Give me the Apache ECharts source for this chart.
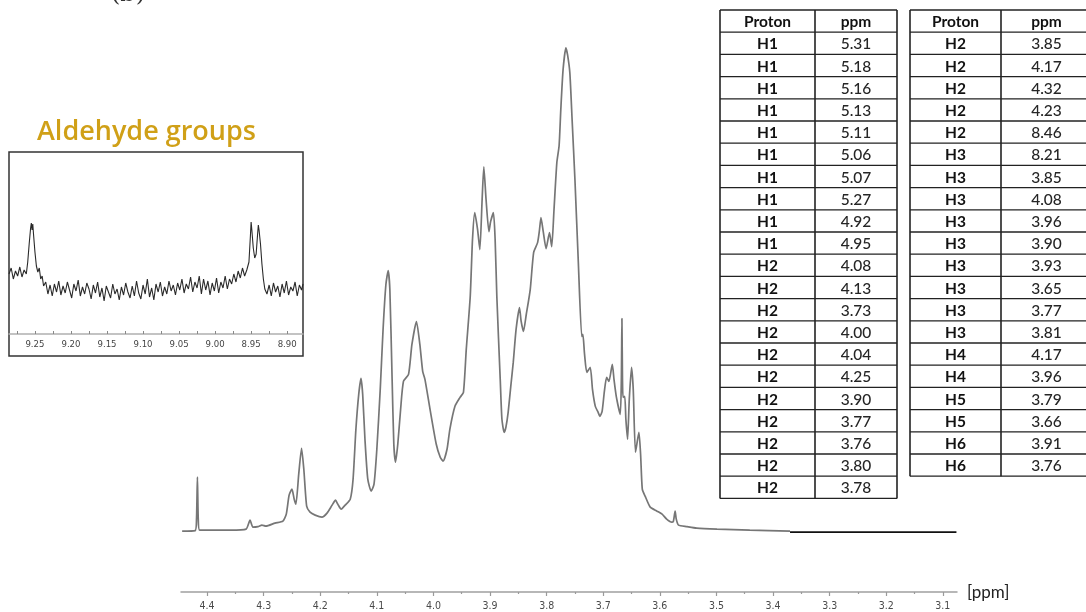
<!DOCTYPE html>
<html><head><meta charset="utf-8">
<script src="https://cdn.jsdelivr.net/npm/echarts@6/dist/echarts.min.js"></script>
<style>html,body{margin:0;padding:0;background:#fff}#c{width:1086px;height:612px}</style>
</head><body><div id="c"></div>
<script>
// 1H NMR spectrum: [chemical shift (ppm), intensity (a.u.)]
const spectrum = [
  [4.444,0],[4.421,0.5],[4.4186,12],[4.417,54],[4.4155,12],[4.413,1],[4.359,1],[4.331,2],
  [4.324,11],[4.319,4],[4.310,4.5],[4.303,6],[4.296,5],[4.280,8],[4.266,10],[4.260,17],
  [4.255,36],[4.250,42],[4.246,32],[4.243,27],[4.238,57],[4.233,83],[4.229,62],[4.224,25],
  [4.218,19],[4.209,16],[4.197,14],[4.188,18],[4.179,26],[4.173,31],[4.169,27],[4.163,22],
  [4.156,26],[4.147,32],[4.142,52],[4.137,102],[4.132,137],[4.128,153],[4.125,137],[4.121,92],
  [4.116,52],[4.110,40],[4.105,47],[4.100,82],[4.094,142],[4.089,202],[4.084,247],[4.080,261],
  [4.077,242],[4.073,152],[4.070,87],[4.067,69],[4.063,87],[4.058,122],[4.053,150],[4.044,157],
  [4.038,187],[4.030,210],[4.024,187],[4.019,160],[4.015,152],[4.006,122],[3.995,87],[3.988,74],
  [3.983,70],[3.976,82],[3.971,102],[3.962,125],[3.953,134],[3.947,139],[3.942,182],[3.935,235],
  [3.931,292],[3.927,319],[3.922,302],[3.918,282],[3.914,332],[3.911,365],[3.907,332],[3.902,300],
  [3.899,310],[3.894,319],[3.891,292],[3.888,235],[3.882,152],[3.879,112],[3.875,99],[3.872,104],
  [3.868,119],[3.863,147],[3.859,169],[3.854,202],[3.848,224],[3.845,210],[3.841,200],[3.836,217],
  [3.829,242],[3.823,279],[3.816,289],[3.813,300],[3.810,314],[3.806,300],[3.801,283],[3.795,299],
  [3.791,285],[3.787,322],[3.782,369],[3.778,386],[3.775,422],[3.771,462],[3.766,484],[3.763,477],
  [3.759,459],[3.755,412],[3.750,352],[3.744,269],[3.738,195],[3.736,197],[3.733,177],[3.729,159],
  [3.723,164],[3.719,142],[3.714,125],[3.709,119],[3.706,115],[3.702,120],[3.698,140],[3.694,154],
  [3.690,150],[3.684,167],[3.681,152],[3.677,135],[3.670,117],[3.668,152],[3.667,213],[3.666,152],
  [3.665,134],[3.662,135],[3.660,112],[3.657,92],[3.654,132],[3.650,164],[3.647,142],[3.643,79],
  [3.637,99],[3.634,77],[3.631,42],[3.626,35],[3.617,24],[3.605,20],[3.596,17],[3.588,12],
  [3.579,9],[3.576,10],[3.573,20],[3.571,12],[3.567,6],[3.552,4.5],[3.535,3],[3.499,2],
  [3.441,1],[3.370,0]
];
// flat baseline segment at the high-field end
const spectrumTail = [[3.370,-1],[3.076,-1]];

// aldehyde region (8.88 - 9.29 ppm)
const aldehydeRegion = [
  [9.286,60],[9.283,66],[9.280,55],[9.277,63],[9.274,58],[9.271,67],[9.268,57],[9.265,64],
  [9.262,60],[9.260,72],[9.258,90],[9.256,106],[9.255,111],[9.254,104],[9.253,110],[9.252,100],
  [9.250,82],[9.248,68],[9.246,62],[9.244,66],[9.242,55],[9.240,58],[9.238,48],[9.235,52],
  [9.232,40],[9.229,49],[9.226,38],[9.223,50],[9.220,42],[9.217,53],[9.214,39],[9.211,48],
  [9.208,41],[9.205,52],[9.202,44],[9.199,36],[9.196,50],[9.193,43],[9.190,54],[9.187,38],
  [9.184,47],[9.181,40],[9.178,51],[9.175,45],[9.172,35],[9.169,49],[9.166,41],[9.163,52],
  [9.160,37],[9.157,46],[9.154,33],[9.151,48],[9.148,42],[9.145,36],[9.142,50],[9.139,40],
  [9.136,45],[9.133,34],[9.130,47],[9.127,39],[9.124,51],[9.121,42],[9.118,36],[9.115,48],
  [9.112,38],[9.109,53],[9.106,41],[9.103,35],[9.100,49],[9.097,40],[9.094,55],[9.091,37],
  [9.088,46],[9.085,34],[9.082,50],[9.079,42],[9.076,52],[9.073,38],[9.070,47],[9.067,40],
  [9.064,53],[9.061,43],[9.058,49],[9.055,39],[9.052,51],[9.049,44],[9.046,55],[9.043,41],
  [9.040,50],[9.037,45],[9.034,57],[9.031,42],[9.028,52],[9.025,46],[9.022,58],[9.019,40],
  [9.016,55],[9.013,44],[9.010,53],[9.007,39],[9.004,51],[9.001,43],[8.998,56],[8.995,41],
  [8.992,52],[8.989,46],[8.986,58],[8.983,45],[8.980,55],[8.977,50],[8.974,60],[8.971,52],
  [8.968,63],[8.965,56],[8.962,66],[8.959,58],[8.956,64],[8.953,72],[8.951,98],[8.950,112],
  [8.949,104],[8.947,86],[8.945,76],[8.943,80],[8.941,100],[8.940,109],[8.939,104],[8.937,90],
  [8.935,70],[8.933,55],[8.931,45],[8.928,40],[8.925,49],[8.922,38],[8.919,51],[8.916,42],
  [8.913,48],[8.910,37],[8.907,50],[8.904,41],[8.901,53],[8.898,39],[8.895,47],[8.892,43],
  [8.889,52],[8.886,38],[8.883,49],[8.880,44],[8.878,50]
];

const mainTickLabels = [4.4,4.3,4.2,4.1,4.0,3.9,3.8,3.7,3.6,3.5,3.4,3.3,3.2,3.1];
const mainHalfTicks = [4.35,4.25,4.15,4.05,3.95,3.85,3.75,3.65,3.55,3.45,3.35,3.25,3.15];
const insetTickLabels = [9.25,9.20,9.15,9.10,9.05,9.00,8.95,8.90];
const insetTickMarks = [9.275,9.25,9.225,9.20,9.175,9.15,9.125,9.10,9.075,9.05,9.025,9.00,
  8.975,8.95,8.925,8.90];

// chemical shift assignments
const protonsLeft = ['H1','H1','H1','H1','H1','H1','H1','H1','H1','H1',
  'H2','H2','H2','H2','H2','H2','H2','H2','H2','H2','H2'];
const shiftsLeft = ['5.31','5.18','5.16','5.13','5.11','5.06','5.07','5.27','4.92','4.95',
  '4.08','4.13','3.73','4.00','4.04','4.25','3.90','3.77','3.76','3.80','3.78'];
const protonsRight = ['H2','H2','H2','H2','H2','H3','H3','H3','H3','H3',
  'H3','H3','H3','H3','H4','H4','H5','H5','H6','H6'];
const shiftsRight = ['3.85','4.17','4.32','4.23','8.46','8.21','3.85','4.08','3.96','3.90',
  '3.93','3.65','3.77','3.81','4.17','3.96','3.79','3.66','3.91','3.76'];

const tableFont = 'Lato, "Open Sans", sans-serif';

function buildTable(x0, xMid, x1, top, rowH, protons, shifts) {
  const els = [];
  const nRows = protons.length + 1;
  const bottom = top + nRows * rowH;
  const lineStyle = { stroke: '#222', lineWidth: 1.3 };
  for (let r = 0; r <= nRows; r++) {
    const y = top + r * rowH;
    els.push({ type: 'line', shape: { x1: x0, y1: y, x2: x1, y2: y }, style: lineStyle, silent: true });
  }
  [x0, xMid, x1].forEach(x => {
    els.push({ type: 'line', shape: { x1: x, y1: top, x2: x, y2: bottom },
      style: { stroke: '#222', lineWidth: 1.6 }, silent: true });
  });
  const c1 = (x0 + xMid) / 2, c2 = (xMid + x1) / 2;
  const addText = (txt, x, y, bold) => els.push({
    type: 'text', silent: true,
    style: { text: txt, x: x, y: y, align: 'center', verticalAlign: 'middle',
      fontFamily: tableFont, fontSize: 15.5, fontWeight: bold ? 'bold' : 500,
      fill: bold ? '#111' : '#262626' }
  });
  addText('Proton', c1, top + rowH / 2 + 1, true);
  addText('ppm', c2, top + rowH / 2 + 1, true);
  protons.forEach((p, i) => {
    const y = top + (i + 1.5) * rowH + 1;
    addText(p, c1, y, true);
    addText(shifts[i], c2, y, false);
  });
  return els;
}

const chart = echarts.init(document.getElementById('c'), null, { renderer: 'canvas' });

const option = {
  animation: false,
  backgroundColor: '#fff',
  grid: [
    { left: 181, right: 129, top: 32, bottom: 19 },
    { left: 9, width: 294, top: 152, bottom: 278 }
  ],
  xAxis: [
    {
      gridIndex: 0, type: 'value', position: 'bottom', inverse: true, min: 3.075, max: 4.446,
      splitLine: { show: false },
      axisLine: { onZero: false, lineStyle: { color: '#a0a0a0', width: 1.5 } },
      axisTick: { customValues: mainTickLabels, length: 4, lineStyle: { color: '#9a9a9a', width: 1.2 } },
      axisLabel: { customValues: mainTickLabels, margin: 9, color: '#4a4a4a', fontSize: 10.5,
        fontFamily: '"DejaVu Sans Condensed", "DejaVu Sans", sans-serif',
        formatter: v => v.toFixed(1) }
    },
    {
      gridIndex: 1, type: 'value', position: 'bottom', inverse: true, min: 8.878, max: 9.286,
      splitLine: { show: false },
      axisLine: { onZero: false, lineStyle: { color: '#b0b0b0', width: 1.5 } },
      axisTick: { customValues: insetTickMarks, inside: true, length: 3, lineStyle: { color: '#888' } },
      axisLabel: { customValues: insetTickLabels, margin: 6, color: '#444', fontSize: 9.5,
        fontFamily: '"DejaVu Sans Condensed", "DejaVu Sans", sans-serif',
        formatter: v => v.toFixed(2) }
    },
    {
      // half-step ticks of the main shift axis
      gridIndex: 0, type: 'value', position: 'bottom', inverse: true, min: 3.075, max: 4.446,
      splitLine: { show: false },
      axisLine: { show: false, onZero: false },
      axisTick: { customValues: mainHalfTicks, length: 2, lineStyle: { color: '#9a9a9a', width: 1.2 } },
      axisLabel: { show: false }
    }
  ],
  yAxis: [
    { gridIndex: 0, type: 'value', min: -61, max: 500, show: false },
    { gridIndex: 1, type: 'value', min: 0, max: 182, show: false }
  ],
  series: [
    { type: 'line', xAxisIndex: 0, yAxisIndex: 0, data: spectrum, showSymbol: false,
      smooth: 0.2, lineStyle: { color: '#767676', width: 1.7 } },
    { type: 'line', xAxisIndex: 0, yAxisIndex: 0, data: spectrumTail, showSymbol: false,
      lineStyle: { color: '#111', width: 1.6 } },
    { type: 'line', xAxisIndex: 1, yAxisIndex: 1, data: aldehydeRegion, showSymbol: false,
      lineStyle: { color: '#2a2a2a', width: 1.1 } }
  ],
  graphic: [
    { type: 'text', silent: true,
      style: { text: '(b)', x: 111, y: -17, fontSize: 24, fontFamily: '"DejaVu Serif", serif', fill: '#333' } },
    { type: 'text', silent: true,
      style: { text: 'Aldehyde groups', x: 37, y: 132, verticalAlign: 'middle',
        fontFamily: '"Open Sans", sans-serif', fontWeight: 600, fontSize: 27, fill: '#D0A017' } },
    { type: 'rect', silent: true, shape: { x: 9, y: 152, width: 294, height: 204 },
      style: { fill: 'none', stroke: '#333', lineWidth: 1.5 } },
    { type: 'text', silent: true,
      style: { text: '[ppm]', x: 967, y: 593, verticalAlign: 'middle',
        fontFamily: tableFont, fontSize: 17, fill: '#222' } }
  ].concat(
    buildTable(720, 815, 897, 10, 22.2, protonsLeft, shiftsLeft),
    buildTable(910, 1001, 1092, 10, 22.2, protonsRight, shiftsRight)
  )
};

chart.setOption(option);
</script>
</body></html>
